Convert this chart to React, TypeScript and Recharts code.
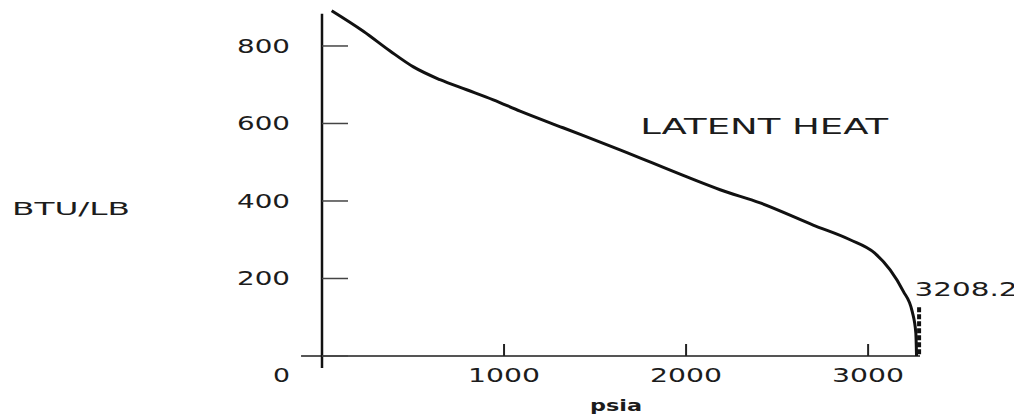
import { LineChart, Line, XAxis, YAxis, ReferenceLine, ReferenceDot } from "recharts";

// latent heat of steam vs pressure
const pressure = [53, 227, 374, 502, 648, 795, 941, 1088, 1324, 1637, 2005, 2187, 2407, 2698, 2901, 3035, 3121, 3192, 3242, 3262, 3266];
const latentHeat = [891, 838, 787, 746, 713, 687, 661, 632, 589, 532, 462, 429, 395, 338, 300, 266, 222, 168, 115, 60, 0];

// critical point marker (dashed stub at the end of the curve)
const criticalPressure = [3280, 3280];
const criticalHeat = [126, 0];

const yTicks = [0, 200, 400, 600, 800];
const xTicks = [1000, 2000, 3000];

const curve = pressure.map((p, i) => ({ psia: p, btu: latentHeat[i] }));
const critical = criticalPressure.map((p, i) => ({ psia: p, btu: criticalHeat[i] }));

const FONT = "'DejaVu Sans', sans-serif";
const INK = "#1c1c1c";

function Caption({ x, y, text, size, width, anchor = "middle", baseline = "central", weight = "normal" }: any) {
  return (
    <text
      x={x}
      y={y}
      textAnchor={anchor}
      dominantBaseline={baseline}
      fontSize={size}
      fontFamily={FONT}
      fontWeight={weight}
      fill={INK}
      textLength={width}
      lengthAdjust="spacingAndGlyphs"
    >
      {text}
    </text>
  );
}

const YTick = ({ x, y, payload }: any) => {
  const zero = payload.value === 0;
  return (
    <g>
      <line x1={x} x2={x + 26} y1={y} y2={y} stroke="#444" strokeWidth={1.5} />
      <Caption x={x - 32} y={zero ? y + 19 : y} text={String(payload.value)} size={19} width={zero ? 17 : 53} anchor="end" />
    </g>
  );
};

const XTick = ({ x, y, payload }: any) => (
  <g>
    <line x1={x} x2={x} y1={y} y2={y - 12} stroke="#222" strokeWidth={2} />
    <Caption x={x} y={y + 19} text={String(payload.value)} size={19} width={72} />
  </g>
);

export default function App() {
  return (
    <div style={{ background: "#fff" }}>
      <LineChart width={1014} height={411} margin={{ top: 0, right: 102, bottom: 3, left: 0 }}>
        <XAxis
          type="number"
          dataKey="psia"
          domain={[0, 3285]}
          ticks={xTicks}
          tick={<XTick />}
          tickSize={0}
          tickMargin={0}
          tickLine={false}
          axisLine={false}
          height={60}
          label={(p: any) => (
            <Caption x={p.viewBox.x + 294} y={p.viewBox.y + 55} text="psia" size={16} width={52} baseline="alphabetic" weight="bold" />
          )}
        />
        <YAxis
          type="number"
          domain={[0, 898]}
          ticks={yTicks}
          tick={<YTick />}
          tickSize={0}
          tickMargin={0}
          tickLine={false}
          axisLine={false}
          width={314}
          label={(p: any) => <Caption x={p.viewBox.x + 63} y={p.viewBox.y + 200} text="BTU/LB" size={18} width={118} />}
        />
        <ReferenceLine
          segment={[{ x: -115, y: 0 }, { x: 3285, y: 0 }]}
          stroke="#555"
          strokeWidth={2}
          ifOverflow="visible"
        />
        <ReferenceLine
          segment={[{ x: 0, y: -31 }, { x: 0, y: 883 }]}
          stroke="#111"
          strokeWidth={2.5}
          ifOverflow="visible"
        />
        <Line
          data={curve}
          dataKey="btu"
          type="monotone"
          stroke="#111"
          strokeWidth={3}
          dot={false}
          activeDot={false}
          isAnimationActive={false}
        />
        <Line
          data={critical}
          dataKey="btu"
          type="linear"
          stroke="#111"
          strokeWidth={4}
          strokeDasharray="5 2"
          dot={false}
          activeDot={false}
          isAnimationActive={false}
        />
        <ReferenceDot
          x={2429}
          y={591}
          r={0}
          ifOverflow="visible"
          label={(p: any) => <Caption x={p.viewBox.x} y={p.viewBox.y} text="LATENT HEAT" size={22} width={248} />}
        />
        <ReferenceDot
          x={3538}
          y={173}
          r={0}
          ifOverflow="visible"
          label={(p: any) => <Caption x={p.viewBox.x} y={p.viewBox.y} text="3208.2" size={20} width={103} />}
        />
      </LineChart>
    </div>
  );
}
